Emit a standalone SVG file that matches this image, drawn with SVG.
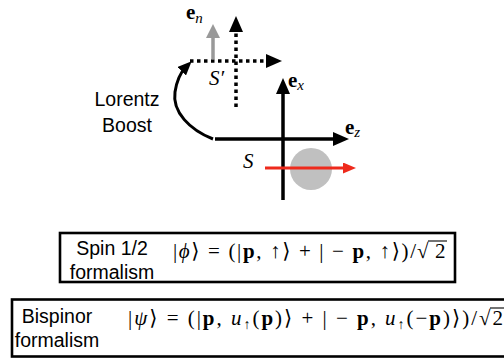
<svg xmlns="http://www.w3.org/2000/svg" width="504" height="359" viewBox="0 0 504 359">
<style>
.ax{stroke:#000;stroke-width:3.5;fill:none}
.dot{stroke:#000;stroke-width:3.5;fill:none;stroke-dasharray:3.5 3.5}
.lbl{font-family:"Liberation Sans",Arial,sans-serif;font-size:19.5px;fill:#000}
.m{font-family:"Liberation Serif","DejaVu Serif",serif;font-size:21px;fill:#000}
.vec{font-family:"Liberation Serif","DejaVu Serif",serif;font-weight:bold;font-size:21px;fill:#000}
.it{font-style:italic;font-weight:normal}
.bx{fill:#fff;stroke:#000;stroke-width:2.6}
.vin{stroke:#000;stroke-width:1.1}
</style>
<defs>
<marker id="ah" markerUnits="userSpaceOnUse" markerWidth="16" markerHeight="14" refX="8" refY="7" orient="auto"><path d="M0,0 L16,7 L0,14 z" fill="#000"/></marker>
<marker id="ahc" markerUnits="userSpaceOnUse" markerWidth="14" markerHeight="12" refX="6" refY="6" orient="auto"><path d="M0,0 L14,6 L0,12 z" fill="#000"/></marker>
<marker id="ahg" markerUnits="userSpaceOnUse" markerWidth="14" markerHeight="14" refX="7" refY="7" orient="auto"><path d="M0,0 L14,7 L0,14 z" fill="#999"/></marker>
<marker id="ahr" markerUnits="userSpaceOnUse" markerWidth="13" markerHeight="11" refX="6" refY="5.5" orient="auto"><path d="M0,0 L13,5.5 L0,11 z" fill="#ee2a1c"/></marker>
</defs>
<g id="particle"><circle cx="311" cy="169" r="21" fill="#c0c0c0"/></g>
<g id="connectors">
<line class="dot" x1="190" y1="61" x2="274" y2="61" marker-end="url(#ah)"/>
<line class="dot" x1="236" y1="107" x2="236" y2="24" marker-end="url(#ah)"/>
<line x1="213" y1="59.5" x2="213" y2="31" stroke="#999" stroke-width="3.5" marker-end="url(#ahg)"/>
<line class="ax" x1="283" y1="200" x2="283" y2="86" marker-end="url(#ah)"/>
<line class="ax" x1="215" y1="139" x2="341" y2="139" marker-end="url(#ah)"/>
<line x1="265" y1="168" x2="349" y2="168" stroke="#ee2a1c" stroke-width="3" marker-end="url(#ahr)"/>
<path class="ax" style="stroke-width:3" d="M213,139 C190,130 172,112 175,92 C177,79 182,71 186,67" marker-end="url(#ahc)"/>
</g>
<g id="frame-labels">
<text class="vec" x="186" y="19">e<tspan class="it" font-size="15" dy="4">n</tspan></text>
<text class="vec" x="288" y="87">e<tspan class="it" font-size="15" dy="3">x</tspan></text>
<text class="vec" x="345" y="134">e<tspan class="it" font-size="15" dy="3">z</tspan></text>
<text class="m it" x="209" y="85" font-size="23">S′</text>
<text class="m it" x="243" y="168" font-size="24">S</text>
</g>
<g id="boost-label">
<text class="lbl" x="127" y="106" text-anchor="middle" font-size="20.5">Lorentz</text>
<text class="lbl" x="127" y="132" text-anchor="middle" font-size="20.5">Boost</text>
</g>
<g id="spin-box">
<rect class="bx" x="60" y="233" width="395" height="49"/>
<text class="lbl" x="112" y="255" text-anchor="middle">Spin 1/2</text>
<text class="lbl" x="112" y="279" text-anchor="middle">formalism</text>
<text class="m" x="173" y="258" textLength="243">|<tspan class="it">ϕ</tspan>⟩ = (|<tspan font-weight="bold">p</tspan>, ↑⟩ + | − <tspan font-weight="bold">p</tspan>, ↑⟩)/</text>
<text class="m" x="417" y="258">√</text>
<text class="m" x="435" y="258">2</text>
<line class="vin" x1="428" y1="241" x2="447" y2="241"/>
</g>
<g id="bispinor-box">
<rect class="bx" x="12" y="299.5" width="510" height="57"/>
<text class="lbl" x="57" y="323" text-anchor="middle">Bispinor</text>
<text class="lbl" x="57" y="347" text-anchor="middle">formalism</text>
<text class="m" x="128" y="325" textLength="349">|<tspan class="it">ψ</tspan>⟩ = (|<tspan font-weight="bold">p</tspan>, <tspan class="it">u</tspan><tspan font-size="14" dy="4">↑</tspan><tspan dy="-4">(</tspan><tspan font-weight="bold">p</tspan>)⟩ + | − <tspan font-weight="bold">p</tspan>, <tspan class="it">u</tspan><tspan font-size="14" dy="4">↑</tspan><tspan dy="-4">(−</tspan><tspan font-weight="bold">p</tspan>)⟩)/</text>
<text class="m" x="479" y="325">√</text>
<text class="m" x="492.5" y="325">2</text>
<line class="vin" x1="490" y1="308" x2="504" y2="308"/>
</g>
</svg>
